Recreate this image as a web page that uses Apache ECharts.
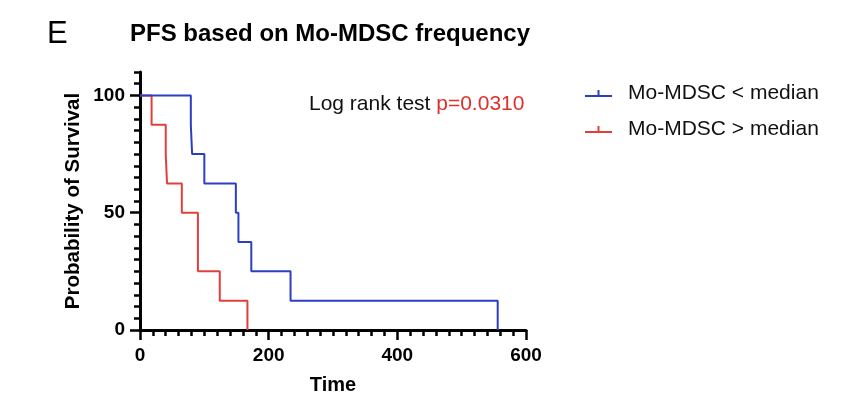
<!DOCTYPE html>
<html>
<head>
<meta charset="utf-8">
<script src="https://cdn.jsdelivr.net/npm/echarts@6/dist/echarts.min.js"></script>
<style>html,body{margin:0;padding:0;background:#fff}#c{width:859px;height:414px}</style>
</head>
<body>
<div id="c"></div>
<script>
// Data (Kaplan-Meier steps)
const lowTimes = [0, 79, 81, 100, 149, 153, 173, 234, 556];
const lowSurv  = [100, 87.5, 75, 62.5, 50, 37.5, 25, 12.5, 0];
const highTimes = [0, 18, 40, 42, 65, 90, 124, 167];
const highSurv  = [100, 87.5, 75, 62.5, 50, 25, 12.5, 0];
const seriesNames = ['Mo-MDSC < median', 'Mo-MDSC > median'];
const xTicks = [0, 200, 400, 600];
const yTicks = [0, 50, 100];
const pText = 'p=0.0310';

const FONT = 'Liberation Sans, Arial, sans-serif';
const BLUE = '#2a3fc2';
const RED = '#e0403a';

function pairs(t, s) { return t.map((v, i) => [v, s[i]]); }

const chart = echarts.init(document.getElementById('c'));
const axisLine = { show: true, lineStyle: { color: '#000', width: 3 } };
const tickStyle = { color: '#000', width: 2.5 };
const icon = 'path://M0,8L12.5,8L12.5,3L14.5,3L14.5,8L27,8L27,10L0,10Z';

chart.setOption({
  animation: false,
  backgroundColor: '#fff',
  title: [
    { text: 'E', left: 42, top: 14, textStyle: { fontFamily: FONT, fontSize: 31, fontWeight: 'normal', color: '#000' } },
    { text: 'PFS based on Mo-MDSC frequency', left: 125, top: 17, textStyle: { fontFamily: FONT, fontSize: 24, fontWeight: 'bold', color: '#000' } }
  ],
  legend: {
    orient: 'vertical', left: 580, top: 78, itemWidth: 27, itemHeight: 7, itemGap: 15,
    icon: icon,
    textStyle: { fontFamily: FONT, fontSize: 21, color: '#111', padding: [0, 0, 0, 11] },
    data: seriesNames
  },
  grid: { left: 140, right: 333, top: 72, bottom: 84 },
  xAxis: [
    {
      type: 'value', min: 0, max: 600, interval: 20, position: 'bottom',
      name: 'Time', nameLocation: 'middle', nameGap: 45,
      nameTextStyle: { fontFamily: FONT, fontSize: 20, fontWeight: 'bold', color: '#000' },
      axisLine: axisLine,
      axisTick: { show: true, length: 6, lineStyle: tickStyle },
      axisLabel: { fontFamily: FONT, fontSize: 19, fontWeight: 'bold', color: '#000', margin: 16,
        formatter: v => xTicks.includes(v) ? String(v) : '' , showMinLabel: true, showMaxLabel: true},
      splitLine: { show: false }
    },
    {
      type: 'value', min: 0, max: 600, position: 'bottom', offset: 0,
      axisLine: { show: false },
      axisTick: { show: true, length: 10, lineStyle: tickStyle, customValues: xTicks },
      axisLabel: { show: false },
      splitLine: { show: false }
    }
  ],
  yAxis: [
    {
      type: 'value', min: 0, max: 110, interval: 5, position: 'left',
      name: 'Probability of Survival', nameLocation: 'middle', nameGap: 56,
      nameTextStyle: { fontFamily: FONT, fontSize: 20.5, fontWeight: 'bold', color: '#000' },
      axisLine: axisLine,
      axisTick: { show: true, length: 6, lineStyle: tickStyle },
      axisLabel: { fontFamily: FONT, fontSize: 19, fontWeight: 'bold', color: '#000', margin: 15,
        formatter: v => yTicks.includes(v) ? String(v) : '' },
      splitLine: { show: false }
    },
    {
      type: 'value', min: 0, max: 110, position: 'left', offset: 0,
      axisLine: { show: false },
      axisTick: { show: true, length: 10, lineStyle: tickStyle, customValues: yTicks },
      axisLabel: { show: false },
      splitLine: { show: false }
    }
  ],
  graphic: [{
    type: 'text', left: 309, top: 94,
    style: {
      text: '{a|Log rank test }{b|' + pText + '}',
      rich: {
        a: { fontFamily: FONT, fontSize: 21, fill: '#111' },
        b: { fontFamily: FONT, fontSize: 21, fill: '#e0302a' }
      }
    }
  }],
  series: [
    {
      name: seriesNames[0], type: 'line', step: 'end', showSymbol: false, color: BLUE,
      lineStyle: { color: BLUE, width: 2 }, data: pairs(lowTimes, lowSurv), z: 3
    },
    {
      name: seriesNames[1], type: 'line', step: 'end', showSymbol: false, color: RED,
      lineStyle: { color: RED, width: 2 }, data: pairs(highTimes, highSurv), z: 2
    }
  ]
});
</script>
</body>
</html>
